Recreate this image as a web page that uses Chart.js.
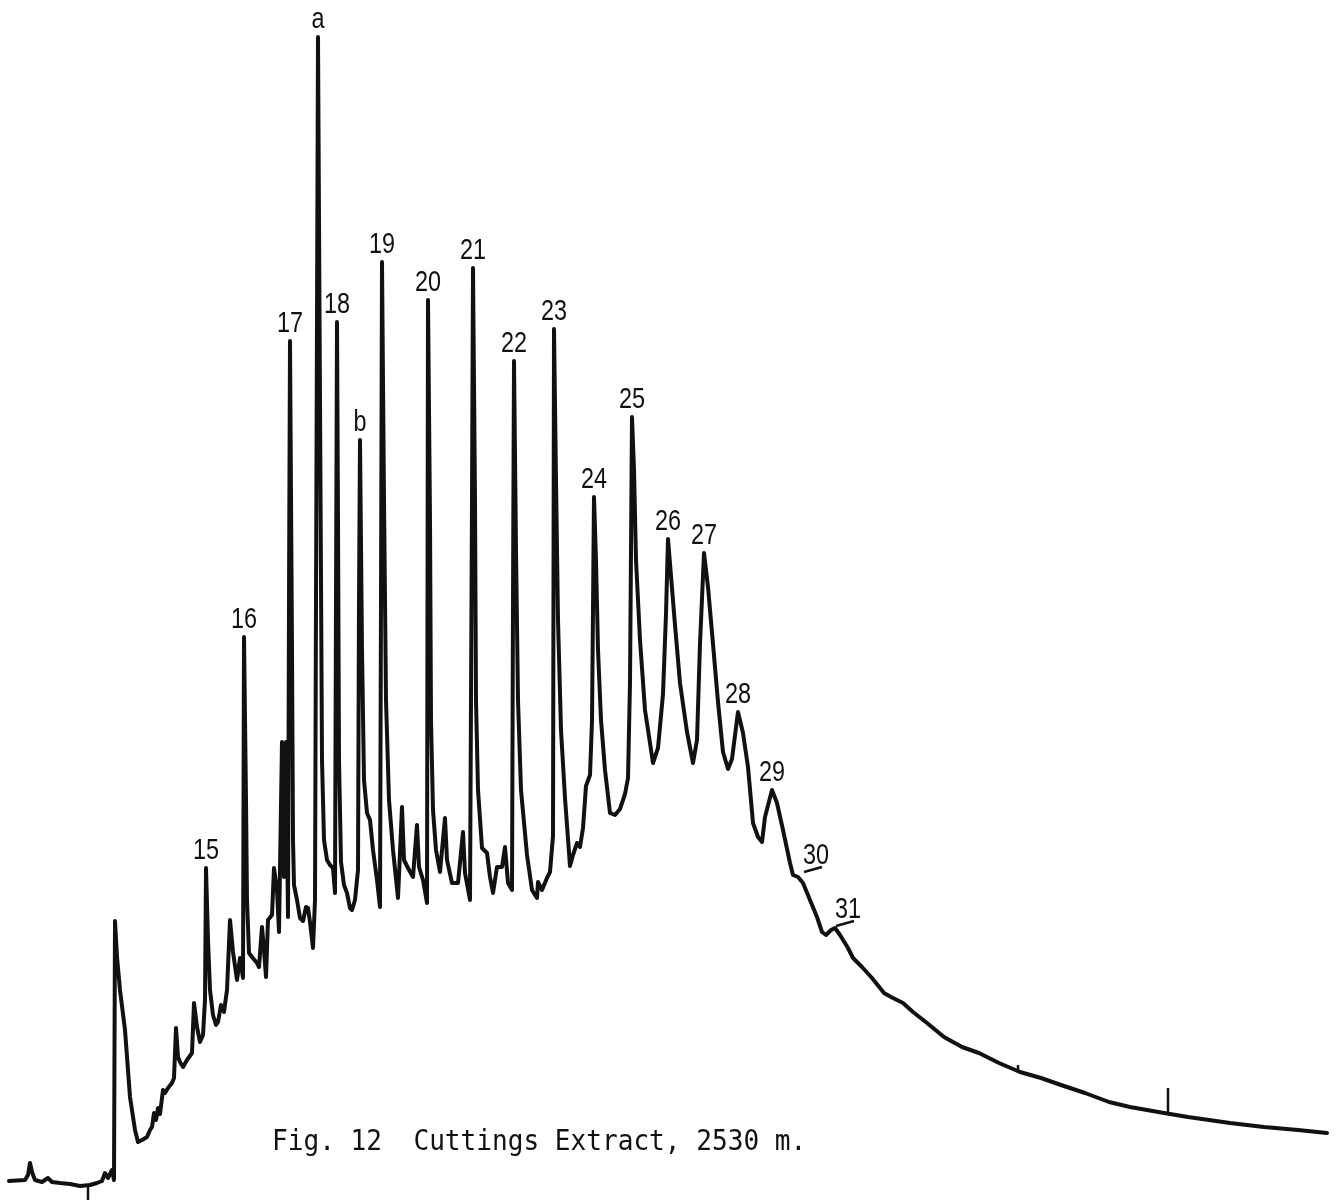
<!DOCTYPE html>
<html>
<head>
<meta charset="utf-8">
<title>Fig. 12 Cuttings Extract, 2530 m.</title>
<script src="https://cdn.jsdelivr.net/npm/chart.js@4.4.1/dist/chart.umd.min.js"></script>
<style>
  html, body { margin: 0; padding: 0; background: #fff; }
  #wrap { width: 1339px; height: 1201px; position: relative; }
</style>
</head>
<body>
<div id="wrap"><canvas id="gc"></canvas></div>
<script>
// Recorder trace: chart time (left to right) against pen position
// (pen position counted downward on the paper, so the y axis is reversed).
const traceTime = [
  9, 25, 28, 30, 32, 35, 42, 48, 52, 60, 70, 80, 90, 97, 102, 105, 108, 112, 114,
  115, 117, 120, 125, 130, 135, 138, 142, 147, 150, 152, 154, 156, 158, 160, 163, 165, 168, 172, 174,
  176, 178, 180, 183, 187, 192, 194, 197, 200, 203, 205, 206, 208, 210, 213, 216, 218, 221, 224, 227,
  230, 233, 237, 240, 243, 244, 246, 247, 249, 252, 257, 259, 262, 264, 266, 268, 272, 274, 277, 279,
  282, 284, 286, 288, 289, 290, 292, 293, 294, 297, 300, 303, 306, 308, 310, 313, 315, 316, 318, 320, 322, 324, 327,
  330, 333, 335, 336, 337, 338, 339, 341, 344, 347, 350, 352, 355, 358, 359, 360, 362, 364, 367, 370, 373, 377, 380,
  381, 382, 384, 386, 389, 393, 398, 402, 404, 408, 413, 417, 419, 423, 427, 428, 430, 431, 433, 436, 440, 445, 447,
  452, 458, 463, 465, 470, 472, 473, 475, 476, 478, 482, 487, 490, 493, 497, 502, 505, 508, 512, 513, 514, 516, 518, 521,
  527, 532, 537, 538, 542, 547, 550, 553, 554, 556, 558, 561, 565, 570, 573, 577, 580, 583, 586, 590,
  592, 594, 596, 598, 601, 605, 610, 615, 620, 625, 628, 630, 632, 634, 636, 640, 645, 653, 658, 663,
  666, 668, 671, 675, 680, 687, 693, 697, 700, 704, 708, 713, 718, 723, 728, 732, 738, 743, 748,
  753, 758, 762, 765, 772, 777, 783, 790, 793, 798, 803, 810, 817, 822, 826, 831, 835, 840, 848,
  853, 862, 872, 884, 891, 903, 913, 927, 944, 962, 979, 999, 1020, 1041, 1061, 1085, 1109, 1130,
  1164, 1188, 1230, 1264, 1298, 1327
];
const traceLevel = [
  1181, 1180, 1175, 1163, 1172, 1180, 1182, 1178, 1182, 1183, 1184, 1186, 1185, 1183, 1181, 1173, 1178, 1170, 1180,
  921, 957, 990, 1030, 1097, 1130, 1142, 1140, 1137, 1130, 1127, 1113, 1120, 1108, 1114, 1090, 1093, 1088, 1083, 1078,
  1028, 1057, 1062, 1067, 1060, 1053, 1003, 1027, 1042, 1035, 1000, 868, 940, 990, 1015, 1025, 1022, 1005, 1012, 990,
  920, 952, 980, 958, 978, 637, 800, 900, 953, 957, 963, 967, 927, 950, 977, 920, 915, 868, 890, 932,
  742, 877, 742, 917, 600, 341, 650, 840, 885, 900, 918, 921, 907, 908, 922, 948, 900, 600, 37, 400, 760, 840, 860,
  865, 868, 893, 600, 322, 520, 760, 862, 885, 893, 908, 910, 900, 870, 600, 440, 650, 780, 813, 820, 850, 880, 907,
  600, 262, 500, 700, 800, 850, 898, 807, 860, 868, 877, 825, 867, 880, 903, 300, 520, 720, 810, 850, 872, 818, 860,
  883, 883, 832, 873, 900, 500, 268, 500, 700, 790, 848, 853, 877, 893, 867, 867, 847, 883, 890, 600, 361, 550, 700, 790,
  855, 890, 898, 882, 890, 878, 872, 836, 329, 480, 620, 730, 798, 866, 855, 843, 847, 828, 786, 775,
  721, 497, 560, 650, 720, 770, 813, 815, 809, 794, 778, 683, 417, 470, 560, 640, 710, 763, 748, 694,
  614, 539, 576, 625, 683, 732, 763, 740, 644, 553, 587, 644, 702, 752, 769, 759, 712, 733, 767,
  823, 837, 842, 817, 790, 803, 830, 863, 875, 877, 883, 900, 917, 932, 935, 930, 928, 935, 948,
  958, 967, 978, 993, 997, 1003, 1012, 1023, 1037, 1047, 1053, 1063, 1072, 1078, 1085, 1093, 1102, 1107,
  1113, 1117, 1123, 1127, 1130, 1133
];

// Identified peaks (n-alkane carbon numbers plus two extra components)
const peakNames  = ['15', '16', '17', 'a', '18', 'b', '19', '20', '21', '22', '23', '24', '25', '26', '27', '28', '29'];
const peakTimes  = [206, 244, 290, 318, 337, 360, 382, 428, 473, 514, 554, 594, 632, 668, 704, 738, 772];
const peakLevels = [868, 637, 341, 37, 322, 440, 262, 300, 268, 361, 329, 497, 417, 539, 553, 712, 790];

// Shoulders marked with a short underline
const shoulderNames  = ['30', '31'];
const shoulderTimes  = [803, 835];
const shoulderLevels = [874, 928];

// Event marks drawn by the recorder pen
const markerTimes = [88, 1018, 1168];
const markerFrom  = [1185, 1072, 1112];
const markerTo    = [1200, 1065, 1088];

const captionText = 'Fig. 12  Cuttings Extract, 2530 m.';

const tracePoints = traceTime.map((t, i) => ({ x: t, y: traceLevel[i] }));
const markerPoints = [];
markerTimes.forEach((t, i) => {
  markerPoints.push({ x: t, y: markerFrom[i] }, { x: t, y: markerTo[i] }, { x: t, y: null });
});

function narrowText(ctx, text, cx, baseY, squeeze) {
  ctx.save();
  ctx.translate(cx, baseY);
  ctx.scale(squeeze, 1);
  ctx.fillText(text, 0, 0);
  ctx.restore();
}

const annotations = {
  id: 'annotations',
  afterDatasetsDraw(chart) {
    const { ctx, chartArea, scales: { x, y } } = chart;
    ctx.save();
    ctx.fillStyle = '#111';
    ctx.strokeStyle = '#111';
    ctx.textAlign = 'center';
    ctx.textBaseline = 'alphabetic';
    ctx.font = '30px "Liberation Sans"';

    peakNames.forEach((name, i) => {
      const px = x.getPixelForValue(peakTimes[i]);
      const py = y.getPixelForValue(peakLevels[i]);
      narrowText(ctx, name, px, py - 9, 0.78);
    });

    ctx.lineWidth = 2.5;
    shoulderNames.forEach((name, i) => {
      const px = x.getPixelForValue(shoulderTimes[i]);
      const py = y.getPixelForValue(shoulderLevels[i]);
      ctx.beginPath();
      ctx.moveTo(px + 1, py - 2);
      ctx.lineTo(px + 19, py - 7);
      ctx.stroke();
      narrowText(ctx, name, px + 13, py - 10, 0.78);
    });

    ctx.textAlign = 'left';
    ctx.font = '29px "DejaVu Sans Mono"';
    narrowText(ctx, captionText, chartArea.left + 272, chartArea.top + 1150, 0.9);
    ctx.restore();
  }
};

new Chart(document.getElementById('gc'), {
  type: 'line',
  data: {
    datasets: [
      {
        label: 'Cuttings extract',
        data: tracePoints,
        borderColor: '#111',
        borderWidth: 4,
        pointRadius: 0,
        tension: 0,
        fill: false,
        borderJoinStyle: 'round',
        borderCapStyle: 'round'
      },
      {
        label: 'Marks',
        data: markerPoints,
        borderColor: '#111',
        borderWidth: 2.5,
        pointRadius: 0,
        spanGaps: false,
        fill: false
      }
    ]
  },
  plugins: [annotations],
  options: {
    responsive: true,
    maintainAspectRatio: false,
    animation: false,
    layout: { padding: 0 },
    plugins: {
      legend: { display: false },
      tooltip: { enabled: false },
      title: { display: false }
    },
    scales: {
      x: { type: 'linear', min: 0, max: 1339, display: false },
      y: { type: 'linear', min: 0, max: 1201, reverse: true, display: false }
    }
  }
});
</script>
</body>
</html>
